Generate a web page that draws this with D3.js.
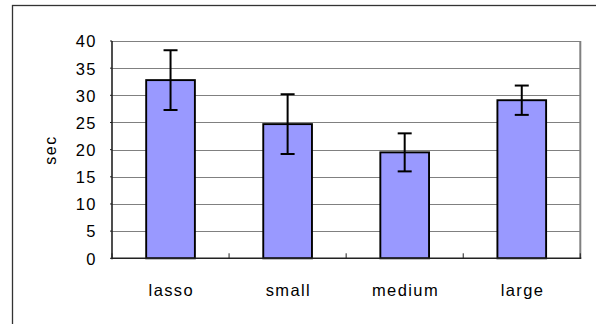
<!DOCTYPE html>
<html><head><meta charset="utf-8">
<script src="https://cdn.jsdelivr.net/npm/d3@7"></script>
<style>
html,body{margin:0;padding:0;background:#fff;}
text{font-family:"Liberation Sans",Arial,sans-serif;fill:#000;}
</style></head>
<body><svg id="c" width="596" height="324"></svg>
<script>
const categories = ["lasso", "small", "medium", "large"];
const means = [32.8, 24.7, 19.5, 29.1];
const errors = [5.5, 5.5, 3.5, 2.7];
const yTicks = [0, 5, 10, 15, 20, 25, 30, 35, 40];
const yLabel = "sec";

const svg = d3.select("#c");
const L = 112, R = 580.3, T = 41, B = 258.3;

// outer chart border
svg.append("rect").attr("x", 12.5).attr("y", 5.5).attr("width", 620).attr("height", 340)
  .attr("fill", "#fff").attr("stroke", "#333").attr("stroke-width", 1.3);

const y = d3.scaleLinear().domain([0, 40]).range([B, T]);
const x = d3.scaleBand().domain(categories).range([L, R]).paddingInner(0.584).paddingOuter(0.292);

// gridlines
svg.append("g").selectAll("line").data(yTicks.filter(d => d > 0)).join("line")
  .attr("x1", L).attr("x2", R).attr("y1", d => Math.round(y(d)) + 0.5).attr("y2", d => Math.round(y(d)) + 0.5)
  .attr("stroke", "#808080").attr("stroke-width", 1);
// right border of plot area
svg.append("line").attr("x1", R).attr("x2", R).attr("y1", T).attr("y2", B)
  .attr("stroke", "#808080").attr("stroke-width", 2);

// bars
svg.append("g").selectAll("rect").data(categories).join("rect")
  .attr("x", d => x(d)).attr("width", x.bandwidth())
  .attr("y", (d, i) => y(means[i])).attr("height", (d, i) => y(0) - y(means[i]))
  .attr("fill", "#9999FF").attr("stroke", "#000").attr("stroke-width", 1.9);

// error bars
const eb = svg.append("g").attr("stroke", "#000").attr("stroke-width", 2);
categories.forEach((c, i) => {
  const cx = x(c) + x.bandwidth() / 2;
  const hi = y(means[i] + errors[i]), lo = y(means[i] - errors[i]);
  eb.append("line").attr("x1", cx).attr("x2", cx).attr("y1", hi).attr("y2", lo);
  eb.append("line").attr("x1", cx - 7).attr("x2", cx + 7).attr("y1", hi).attr("y2", hi);
  eb.append("line").attr("x1", cx - 7).attr("x2", cx + 7).attr("y1", lo).attr("y2", lo);
});

// axes lines
svg.append("line").attr("x1", L).attr("x2", L).attr("y1", T).attr("y2", B + 1)
  .attr("stroke", "#222").attr("stroke-width", 1.6);
svg.append("line").attr("x1", L).attr("x2", R + 1).attr("y1", B).attr("y2", B)
  .attr("stroke", "#222").attr("stroke-width", 1.6);
// y ticks (outside, short)
svg.append("g").selectAll("line").data(yTicks).join("line")
  .attr("x1", L - 2).attr("x2", L).attr("y1", d => y(d)).attr("y2", d => y(d))
  .attr("stroke", "#222").attr("stroke-width", 1);
// category boundary ticks (inside)
const step = x.step();
svg.append("g").selectAll("line").data(d3.range(categories.length + 1)).join("line")
  .attr("x1", i => L + i * step).attr("x2", i => L + i * step)
  .attr("y1", B - 5).attr("y2", B)
  .attr("stroke", "#222").attr("stroke-width", 1);

// y tick labels
svg.append("g").selectAll("text").data(yTicks).join("text")
  .attr("x", 97).attr("y", d => y(d) + 2)
  .attr("text-anchor", "end").attr("dominant-baseline", "middle")
  .attr("font-size", 16.5).attr("letter-spacing", 1.5)
  .text(d => d);

// x labels
svg.append("g").selectAll("text").data(categories).join("text")
  .attr("x", d => x(d) + x.bandwidth() / 2 + 0.8).attr("y", 292)
  .attr("text-anchor", "middle").attr("dominant-baseline", "middle")
  .attr("font-size", 16.5).attr("letter-spacing", 1.4)
  .text(d => d);

// y axis title
svg.append("text").attr("transform", "translate(52,150) rotate(-90)")
  .attr("text-anchor", "middle").attr("dominant-baseline", "middle")
  .attr("font-size", 16).attr("letter-spacing", 1.5).text(yLabel);
</script></body></html>
